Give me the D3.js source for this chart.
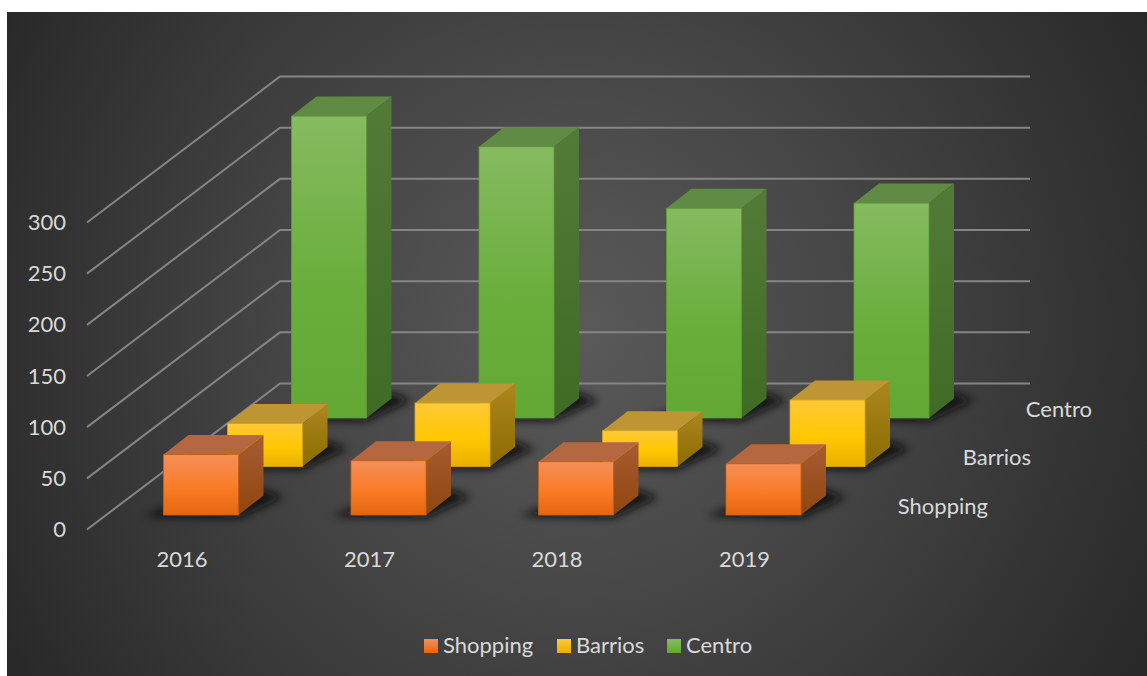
<!DOCTYPE html>
<html>
<head>
<meta charset="utf-8">
<script src="https://cdn.jsdelivr.net/npm/d3@7"></script>
<style>
html,body{margin:0;padding:0;background:#fff;}
svg{display:block;}
text{font-family:Lato,"Noto Sans",sans-serif;font-size:22px;fill:#d9d9d9;}
</style>
</head>
<body>
<div id="chart"></div>
<script>
const years = ["2016","2017","2018","2019"];
const seriesNames = ["Shopping","Barrios","Centro"];
const shopping = [59,53,52,50];
const barrios = [42,62,35,65];
const centro = [295,265,205,210];
const valueTicks = [0,50,100,150,200,250,300];

const W = 1147, H = 676;
const svg = d3.select("#chart").append("svg").attr("width",W).attr("height",H);
const defs = svg.append("defs");

const bg = defs.append("radialGradient").attr("id","bg")
  .attr("gradientUnits","userSpaceOnUse").attr("cx",577).attr("cy",330).attr("r",650);
bg.append("stop").attr("offset",0).attr("stop-color","#5a5a5a");
bg.append("stop").attr("offset",0.45).attr("stop-color","#454545");
bg.append("stop").attr("offset",1).attr("stop-color","#292929");

const blur = defs.append("filter").attr("id","soft")
  .attr("x","-30%").attr("y","-60%").attr("width","160%").attr("height","220%");
blur.append("feGaussianBlur").attr("stdDeviation",4.5);

// Front, top and side shades per series
const palette = {
  Shopping:{stops:["#f58f58","#fa7b26","#e4660f"],top:"#b5683f",side:["#a65c30","#90460f"],edge:"#c85f14"},
  Barrios:{stops:["#ffc838","#ffc800","#e8b000"],top:"#bd9533",side:["#ad8620","#8a6c00"],edge:"#d9a520"},
  Centro:{stops:["#86bb60","#6aae3c","#62a833"],top:"#5f8b44",side:["#527b37","#3f6b25"],edge:"#5f9c37"}
};
seriesNames.forEach(s=>{
  const p = palette[s];
  const g = defs.append("linearGradient").attr("id","front"+s).attr("x1",0).attr("x2",0).attr("y1",0).attr("y2",1);
  [0,0.55,1].forEach((o,i)=>g.append("stop").attr("offset",o).attr("stop-color",p.stops[i]));
  const h = defs.append("linearGradient").attr("id","side"+s).attr("x1",0).attr("x2",0).attr("y1",0).attr("y2",1);
  h.append("stop").attr("offset",0).attr("stop-color",p.side[0]);
  h.append("stop").attr("offset",1).attr("stop-color",p.side[1]);
  const l = defs.append("linearGradient").attr("id","legend"+s).attr("x1",0).attr("x2",0).attr("y1",0).attr("y2",1);
  l.append("stop").attr("offset",0).attr("stop-color",p.stops[0]);
  l.append("stop").attr("offset",1).attr("stop-color",p.stops[2]);
});

svg.append("rect").attr("x",7).attr("y",12).attr("width",W-7).attr("height",H-12).attr("fill","url(#bg)");

// Oblique projection: y scale measures height, depth shifts a point up and to the right
const y = d3.scaleLinear().domain([0,300]).range([0,307]);
const xYear = d3.scalePoint().domain(years).range([163.5,726]);
const depthStep = d3.scalePoint().domain(seriesNames).range([0,2]);
const floorFront = 515, stepX = 64, stepY = 48.5, barW = 75, capX = 25, capY = 19.5;

// Value gridlines run along the left wall and then across the back wall
const wall = svg.append("g").attr("fill","none").attr("stroke","#858585").attr("stroke-width",2);
valueTicks.forEach(v=>{
  const h = y(v);
  wall.append("path").attr("d",d3.line()([[87,529.5-h],[280,383.5-h],[1030,383.5-h]]));
});

// Value labels sit left of the wall
svg.append("g").selectAll("text").data(valueTicks).join("text")
  .attr("x",66).attr("y",v=>530-y(v)+7).attr("text-anchor","end").text(d=>d);

const rows = {Shopping:shopping,Barrios:barrios,Centro:centro};
// Rear rows are painted first so the nearer boxes cover them
seriesNames.slice().reverse().forEach(s=>{
  const group = svg.append("g");
  const d = depthStep(s);
  const data = years.map((yr,i)=>({yr,v:rows[s][i]}));
  data.forEach(({yr,v})=>{
    const x0 = xYear(yr)+d*stepX, base = floorFront-d*stepY, top = base-y(v), x1 = x0+barW;
    const p = palette[s];
    group.append("path").attr("filter","url(#soft)").attr("fill","#0a0a0a").attr("opacity",0.85)
      .attr("d",d3.line()([[x0-20,base+1],[x1,base+3],[x1+capX+20,base-capY+2],[x1+capX,base-capY-6],[x0,base-6]]));
    group.append("path").attr("fill",p.top)
      .attr("d",d3.line()([[x0,top],[x0+capX,top-capY],[x1+capX,top-capY],[x1,top]])+"Z");
    group.append("path").attr("fill",`url(#side${s})`)
      .attr("d",d3.line()([[x1,top],[x1+capX,top-capY],[x1+capX,base-capY],[x1,base]])+"Z");
    group.append("rect").attr("x",x0).attr("y",top).attr("width",barW).attr("height",base-top)
      .attr("fill",`url(#front${s})`).attr("stroke",p.edge).attr("stroke-width",0.8);
  });
});

// Year labels along the front edge
svg.append("g").selectAll("text").data(years).join("text")
  .attr("x",d=>xYear(d)+18.5).attr("y",567).attr("text-anchor","middle").text(d=>d);

// Series labels step back along the depth axis
const depthLabelX = {Shopping:988,Barrios:1031,Centro:1092};
svg.append("g").selectAll("text").data(seriesNames).join("text")
  .attr("x",d=>depthLabelX[d]).attr("y",d=>513.5-depthStep(d)*48.5)
  .attr("text-anchor","end").text(d=>d);

// Legend
const legendX = {Shopping:424,Barrios:557,Centro:667};
const legend = svg.append("g").selectAll("g").data(seriesNames).join("g")
  .attr("transform",d=>`translate(${legendX[d]},639)`);
legend.append("rect").attr("width",14).attr("height",14).attr("fill",d=>`url(#legend${d})`);
legend.append("text").attr("x",19).attr("y",14).text(d=>d);
</script>
</body>
</html>
